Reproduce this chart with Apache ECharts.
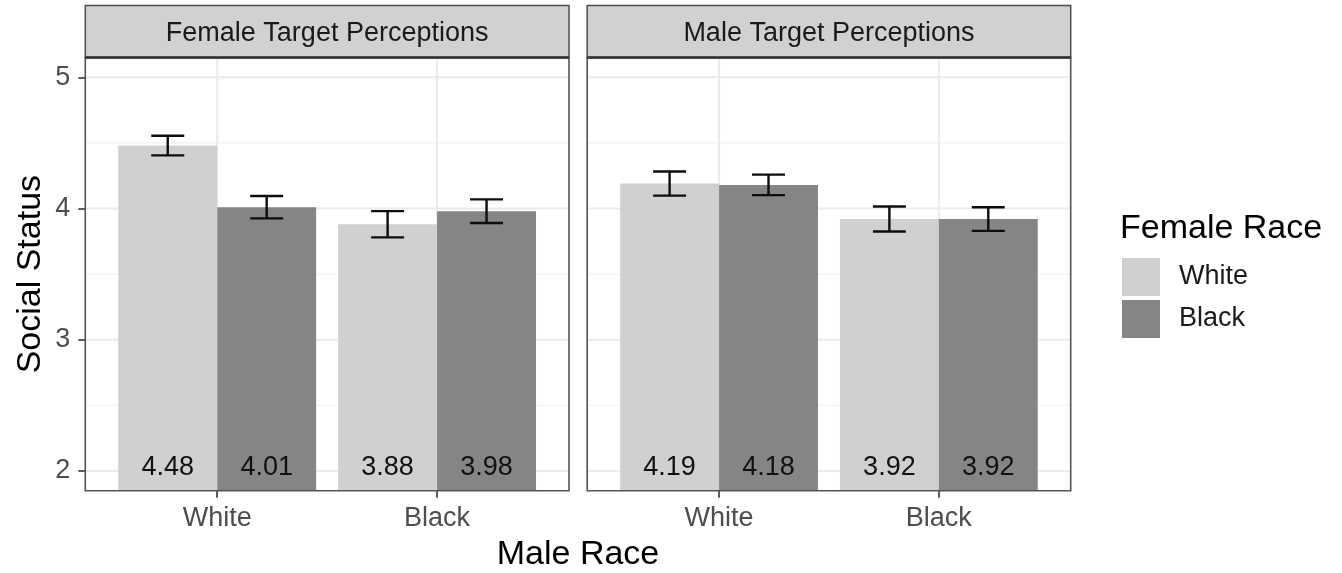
<!DOCTYPE html>
<html>
<head>
<meta charset="utf-8">
<script src="https://cdn.jsdelivr.net/npm/echarts@6/dist/echarts.min.js"></script>
<style>
  html, body { margin: 0; padding: 0; background: #ffffff; }
  #chart { width: 1342px; height: 573px; }
</style>
</head>
<body>
<div id="chart"></div>
<script>
// Facets, categories and legend entries
const facets = ['Female Target Perceptions', 'Male Target Perceptions'];
const maleRace = ['White', 'Black'];
const femaleRace = ['White', 'Black'];
const yTicks = [2, 3, 4, 5];
const yMinorGrid = [2.5, 3.5, 4.5];

// Mean social status per male race (White, Black), split by female race
const femaleTargetWhite = [4.48, 3.88];
const femaleTargetBlack = [4.01, 3.98];
const maleTargetWhite = [4.19, 3.92];
const maleTargetBlack = [4.18, 3.92];

// Standard errors for the error bars, same layout
const femaleTargetWhiteSE = [0.075, 0.10];
const femaleTargetBlackSE = [0.085, 0.09];
const maleTargetWhiteSE = [0.092, 0.095];
const maleTargetBlackSE = [0.078, 0.09];

// Layout of the two facet panels (pixels)
const W = 1342, H = 573;
const panelTop = 57.6, panelBottom = 490.7;
const panels = [
  { left: 85.3, right: 569.0 },
  { left: 587.2, right: 1070.7 }
];
const stripTop = 5.5;

const FONT = 'Liberation Sans, Arial, Helvetica, sans-serif';
const SMALL = 27, LARGE = 34;
const fillColors = ['#D0D0D0', '#858585'];
const dodge = 0.225;      // half of a dodged bar's width (x units)
const barHalf = 0.225;
const capHalf = 0.075;
const labelY = 2.025;

const values = [[femaleTargetWhite, femaleTargetBlack], [maleTargetWhite, maleTargetBlack]];
const errors = [[femaleTargetWhiteSE, femaleTargetBlackSE], [maleTargetWhiteSE, maleTargetBlackSE]];

const grids = panels.map(p => ({
  left: p.left, width: p.right - p.left,
  top: panelTop, height: panelBottom - panelTop,
  containLabel: false
}));

const xAxes = panels.map((p, i) => ({
  type: 'value', gridIndex: i, min: 0.4, max: 2.6, z: 5,
  axisLine: { show: false },
  splitLine: { show: false },
  axisTick: { show: true, customValues: [1, 2], length: 7, lineStyle: { color: '#333333', width: 1.6 } },
  axisLabel: {
    show: true, customValues: [1, 2], margin: 14,
    formatter: v => maleRace[Math.round(v) - 1] || '',
    fontSize: SMALL, color: '#4D4D4D', fontFamily: FONT
  }
}));

const yAxes = panels.map((p, i) => ({
  type: 'value', gridIndex: i, min: 1.85, max: 5.15, z: 5,
  name: i === 0 ? 'Social Status' : '',
  nameLocation: 'middle', nameGap: 38,
  nameTextStyle: { fontSize: LARGE, color: '#000000', fontFamily: FONT },
  axisLine: { show: false },
  splitLine: { show: false },
  axisTick: { show: i === 0, customValues: yTicks, length: 7, lineStyle: { color: '#333333', width: 1.6 } },
  axisLabel: {
    show: i === 0, customValues: yTicks, margin: 15,
    fontSize: SMALL, color: '#4D4D4D', fontFamily: FONT
  }
}));

function gridLineSeries(i) {
  const data = [];
  yTicks.forEach(v => data.push([0, v, 1]));
  yMinorGrid.forEach(v => data.push([0, v, 0]));
  [1, 2].forEach(v => data.push([v, 0, 2]));
  return {
    type: 'custom', xAxisIndex: i, yAxisIndex: i, z: 1, silent: true,
    data: data,
    renderItem: function (params, api) {
      const cs = params.coordSys;
      const kind = api.value(2);
      if (kind === 2) {
        const x = api.coord([api.value(0), 2])[0];
        return { type: 'line', shape: { x1: x, y1: cs.y, x2: x, y2: cs.y + cs.height },
          style: { stroke: '#EBEBEB', lineWidth: 2 } };
      }
      const y = api.coord([1, api.value(1)])[1];
      return { type: 'line', shape: { x1: cs.x, y1: y, x2: cs.x + cs.width, y2: y },
        style: { stroke: kind === 1 ? '#EBEBEB' : '#F2F2F2', lineWidth: kind === 1 ? 2 : 1.3 } };
    }
  };
}

function barSeries(i, j) {
  const offset = j === 0 ? -dodge : dodge;
  return {
    type: 'custom', name: femaleRace[j], xAxisIndex: i, yAxisIndex: i, z: 2,
    clip: true,
    itemStyle: { color: fillColors[j] },
    data: maleRace.map((m, k) => [k + 1, values[i][j][k], errors[i][j][k]]),
    renderItem: function (params, api) {
      const x = api.value(0) + offset;
      const mean = api.value(1);
      const se = api.value(2);
      const tl = api.coord([x - barHalf, mean]);
      const br = api.coord([x + barHalf, 0]);
      const top = api.coord([x, mean + se]);
      const bot = api.coord([x, mean - se]);
      const cl = api.coord([x - capHalf, mean])[0];
      const cr = api.coord([x + capHalf, mean])[0];
      const lab = api.coord([x, labelY]);
      const eb = { stroke: '#0D0D0D', lineWidth: 2.4 };
      return {
        type: 'group',
        children: [
          { type: 'rect', shape: { x: tl[0], y: tl[1], width: br[0] - tl[0], height: br[1] - tl[1] },
            style: { fill: api.visual('color') } },
          { type: 'line', shape: { x1: top[0], y1: top[1], x2: bot[0], y2: bot[1] }, style: eb },
          { type: 'line', shape: { x1: cl, y1: top[1], x2: cr, y2: top[1] }, style: eb },
          { type: 'line', shape: { x1: cl, y1: bot[1], x2: cr, y2: bot[1] }, style: eb },
          { type: 'text', x: lab[0], y: lab[1],
            style: { text: mean.toFixed(2), fill: '#111111', fontSize: SMALL, fontFamily: FONT,
              align: 'center', verticalAlign: 'middle' } }
        ]
      };
    }
  };
}

const series = [];
panels.forEach((p, i) => {
  series.push(gridLineSeries(i));
  series.push(barSeries(i, 0));
  series.push(barSeries(i, 1));
});

// Facet strips, panel frames and the shared x-axis title
const graphics = [];
panels.forEach((p, i) => {
  graphics.push({
    type: 'rect', z: 100, silent: true,
    shape: { x: p.left, y: stripTop, width: p.right - p.left, height: panelTop - stripTop },
    style: { fill: '#D1D1D1', stroke: '#4D4D4D', lineWidth: 1.5 }
  });
  graphics.push({
    type: 'text', z: 101, silent: true,
    x: (p.left + p.right) / 2, y: (stripTop + panelTop) / 2 + 2,
    style: { text: facets[i], fontSize: SMALL, fill: '#1A1A1A', fontFamily: FONT,
      align: 'center', verticalAlign: 'middle' }
  });
  graphics.push({
    type: 'rect', z: 100, silent: true,
    shape: { x: p.left, y: panelTop, width: p.right - p.left, height: panelBottom - panelTop },
    style: { fill: null, stroke: '#555555', lineWidth: 1.6 }
  });
  graphics.push({
    type: 'line', z: 102, silent: true,
    shape: { x1: p.left, y1: panelTop, x2: p.right, y2: panelTop },
    style: { stroke: '#333333', lineWidth: 2.5 }
  });
});
graphics.push({
  type: 'text', z: 100, silent: true,
  x: (panels[0].left + panels[1].right) / 2, y: 555,
  style: { text: 'Male Race', fontSize: LARGE, fill: '#000000', fontFamily: FONT,
    align: 'center', verticalAlign: 'middle' }
});
graphics.push({
  type: 'text', z: 100, silent: true,
  x: 1120, y: 229,
  style: { text: 'Female Race', fontSize: LARGE, fill: '#000000', fontFamily: FONT,
    align: 'left', verticalAlign: 'middle' }
});

const chart = echarts.init(document.getElementById('chart'), null, { renderer: 'canvas', width: W, height: H });
chart.setOption({
  animation: false,
  backgroundColor: '#ffffff',
  textStyle: { fontFamily: FONT },
  grid: grids,
  xAxis: xAxes,
  yAxis: yAxes,
  legend: {
    data: femaleRace, orient: 'vertical', left: 1122, top: 258, padding: 0,
    icon: 'rect', itemWidth: 38, itemHeight: 38, itemGap: 4,
    selectedMode: false,
    textStyle: { fontSize: SMALL, color: '#1A1A1A', fontFamily: FONT, padding: [2, 0, 0, 14] }
  },
  graphic: graphics,
  series: series
});
</script>
</body>
</html>
